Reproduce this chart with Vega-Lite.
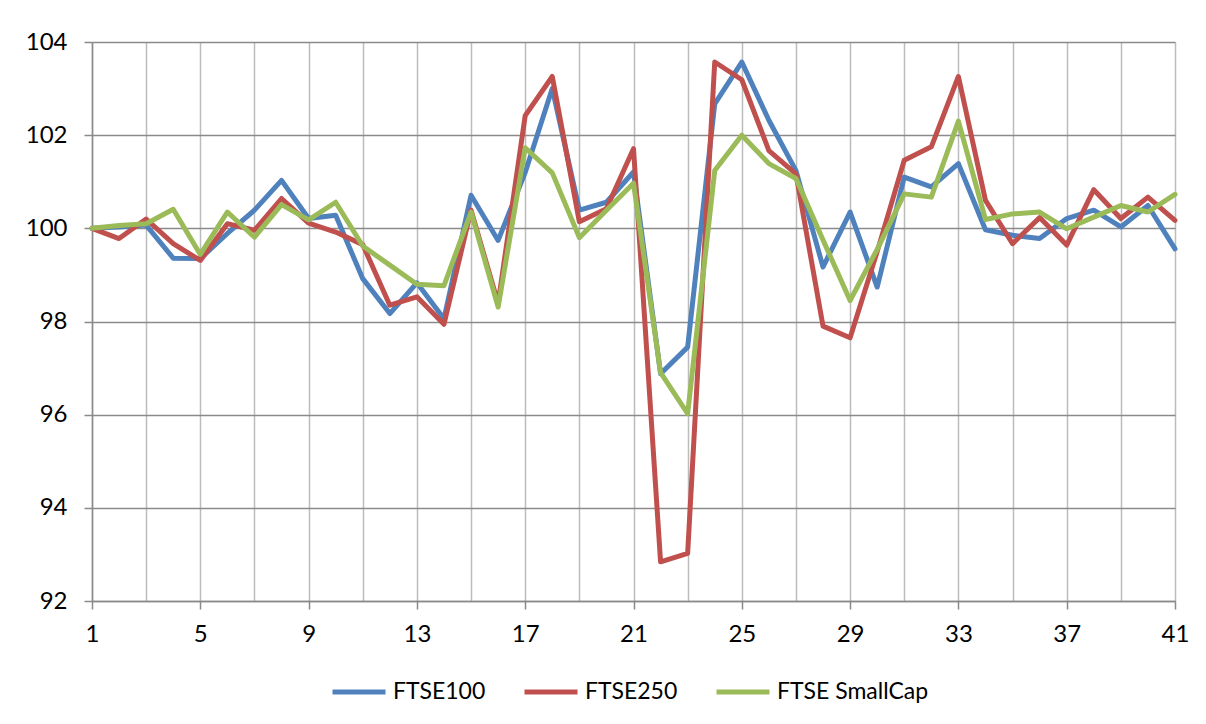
{
  "$schema": "https://vega.github.io/schema/vega-lite/v6.json",
  "width": 1083,
  "height": 559,
  "autosize": {"type": "none"},
  "padding": {"left": 92, "top": 42, "right": 31, "bottom": 123},
  "background": "white",
  "config": {
    "view": {"stroke": null},
    "font": "Lato",
    "axis": {"labelFont": "Lato", "labelFontSize": 24, "labelColor": "#000000", "titleFont": "Lato"},
    "legend": {"labelFont": "Lato", "labelFontSize": 23, "labelColor": "#000000"}
  },
  "data": {
    "values": [
      {"i": 1, "FTSE100": 100, "FTSE250": 100, "FTSE SmallCap": 100},
      {"i": 2, "FTSE100": 100.03, "FTSE250": 99.78, "FTSE SmallCap": 100.06},
      {"i": 3, "FTSE100": 100.07, "FTSE250": 100.2, "FTSE SmallCap": 100.1},
      {"i": 4, "FTSE100": 99.36, "FTSE250": 99.67, "FTSE SmallCap": 100.41},
      {"i": 5, "FTSE100": 99.35, "FTSE250": 99.31, "FTSE SmallCap": 99.44},
      {"i": 6, "FTSE100": 99.89, "FTSE250": 100.1, "FTSE SmallCap": 100.35},
      {"i": 7, "FTSE100": 100.39, "FTSE250": 99.96, "FTSE SmallCap": 99.81},
      {"i": 8, "FTSE100": 101.03, "FTSE250": 100.64, "FTSE SmallCap": 100.51},
      {"i": 9, "FTSE100": 100.21, "FTSE250": 100.11, "FTSE SmallCap": 100.18},
      {"i": 10, "FTSE100": 100.28, "FTSE250": 99.92, "FTSE SmallCap": 100.56},
      {"i": 11, "FTSE100": 98.92, "FTSE250": 99.65, "FTSE SmallCap": 99.62},
      {"i": 12, "FTSE100": 98.17, "FTSE250": 98.35, "FTSE SmallCap": 99.21},
      {"i": 13, "FTSE100": 98.83, "FTSE250": 98.53, "FTSE SmallCap": 98.8},
      {"i": 14, "FTSE100": 98.06, "FTSE250": 97.94, "FTSE SmallCap": 98.77},
      {"i": 15, "FTSE100": 100.71, "FTSE250": 100.39, "FTSE SmallCap": 100.35},
      {"i": 16, "FTSE100": 99.74, "FTSE250": 98.39, "FTSE SmallCap": 98.31},
      {"i": 17, "FTSE100": 101.2, "FTSE250": 102.42, "FTSE SmallCap": 101.73},
      {"i": 18, "FTSE100": 103.0, "FTSE250": 103.26, "FTSE SmallCap": 101.19},
      {"i": 19, "FTSE100": 100.39, "FTSE250": 100.14, "FTSE SmallCap": 99.8},
      {"i": 20, "FTSE100": 100.56, "FTSE250": 100.42, "FTSE SmallCap": 100.39},
      {"i": 21, "FTSE100": 101.21, "FTSE250": 101.71, "FTSE SmallCap": 100.97},
      {"i": 22, "FTSE100": 96.88, "FTSE250": 92.84, "FTSE SmallCap": 96.9},
      {"i": 23, "FTSE100": 97.45, "FTSE250": 93.02, "FTSE SmallCap": 96.02},
      {"i": 24, "FTSE100": 102.67, "FTSE250": 103.57, "FTSE SmallCap": 101.24},
      {"i": 25, "FTSE100": 103.57, "FTSE250": 103.19, "FTSE SmallCap": 102.0},
      {"i": 26, "FTSE100": 102.32, "FTSE250": 101.67, "FTSE SmallCap": 101.39},
      {"i": 27, "FTSE100": 101.24, "FTSE250": 101.17, "FTSE SmallCap": 101.07},
      {"i": 28, "FTSE100": 99.17, "FTSE250": 97.9, "FTSE SmallCap": 99.75},
      {"i": 29, "FTSE100": 100.35, "FTSE250": 97.65, "FTSE SmallCap": 98.45},
      {"i": 30, "FTSE100": 98.74, "FTSE250": 99.5, "FTSE SmallCap": 99.55},
      {"i": 31, "FTSE100": 101.1, "FTSE250": 101.46, "FTSE SmallCap": 100.74},
      {"i": 32, "FTSE100": 100.89, "FTSE250": 101.75, "FTSE SmallCap": 100.67},
      {"i": 33, "FTSE100": 101.39, "FTSE250": 103.26, "FTSE SmallCap": 102.3},
      {"i": 34, "FTSE100": 99.97, "FTSE250": 100.6, "FTSE SmallCap": 100.19},
      {"i": 35, "FTSE100": 99.85, "FTSE250": 99.67, "FTSE SmallCap": 100.31},
      {"i": 36, "FTSE100": 99.78, "FTSE250": 100.23, "FTSE SmallCap": 100.35},
      {"i": 37, "FTSE100": 100.21, "FTSE250": 99.64, "FTSE SmallCap": 99.99},
      {"i": 38, "FTSE100": 100.39, "FTSE250": 100.83, "FTSE SmallCap": 100.24},
      {"i": 39, "FTSE100": 100.03, "FTSE250": 100.21, "FTSE SmallCap": 100.49},
      {"i": 40, "FTSE100": 100.49, "FTSE250": 100.67, "FTSE SmallCap": 100.35},
      {"i": 41, "FTSE100": 99.56, "FTSE250": 100.17, "FTSE SmallCap": 100.73}
    ]
  },
  "transform": [
    {"fold": ["FTSE100", "FTSE250", "FTSE SmallCap"], "as": ["series", "value"]}
  ],
  "encoding": {
    "y": {
      "field": "value",
      "type": "quantitative",
      "scale": {"domain": [92, 104], "nice": false, "zero": false},
      "axis": {
        "title": null,
        "values": [92, 94, 96, 98, 100, 102, 104],
        "grid": true,
        "gridColor": "#8a8a8a",
        "gridWidth": 1.5,
        "domainColor": "#8a8a8a",
        "domainWidth": 1.5,
        "tickColor": "#8a8a8a",
        "tickWidth": 1.5,
        "tickSize": 8,
        "labelPadding": 17
      }
    },
    "color": {
      "field": "series",
      "type": "nominal",
      "scale": {
        "domain": ["FTSE100", "FTSE250", "FTSE SmallCap"],
        "range": ["#4F81BD", "#C0504D", "#9BBB59"]
      },
      "legend": {
        "title": null,
        "orient": "none",
        "direction": "horizontal",
        "legendX": 238,
        "legendY": 621,
        "symbolType": "stroke",
        "symbolSize": 2809,
        "symbolStrokeWidth": 5,
        "labelOffset": 5,
        "columnPadding": 28,
        "padding": 0
      }
    }
  },
  "layer": [
    {
      "transform": [{"filter": "datum.series === 'FTSE100'"}],
      "mark": {"type": "line", "strokeWidth": 5, "strokeJoin": "round", "strokeCap": "round"},
      "encoding": {
        "x": {
          "field": "i",
          "type": "quantitative",
          "scale": {"domain": [1, 41], "nice": false, "zero": false},
          "axis": {
            "orient": "bottom",
            "title": null,
            "values": [1, 3, 5, 7, 9, 11, 13, 15, 17, 19, 21, 23, 25, 27, 29, 31, 33, 35, 37, 39, 41],
            "grid": true,
            "gridColor": "#bcbcbc",
            "gridWidth": 1.5,
            "ticks": false,
            "labels": false,
            "domain": false
          }
        }
      }
    },
    {
      "transform": [{"filter": "datum.series === 'FTSE250'"}],
      "mark": {"type": "line", "strokeWidth": 5, "strokeJoin": "round", "strokeCap": "round"},
      "encoding": {
        "x": {
          "field": "i",
          "type": "quantitative",
          "scale": {"domain": [1, 41], "nice": false, "zero": false},
          "axis": {
            "orient": "bottom",
            "title": null,
            "values": [1, 5, 9, 13, 17, 21, 25, 29, 33, 37, 41],
            "grid": false,
            "domainColor": "#8a8a8a",
            "domainWidth": 1.5,
            "tickColor": "#8a8a8a",
            "tickWidth": 1.5,
            "tickSize": 8,
            "labelPadding": 13,
            "labelFlush": false
          }
        }
      }
    },
    {
      "transform": [{"filter": "datum.series === 'FTSE SmallCap'"}],
      "mark": {"type": "line", "strokeWidth": 5, "strokeJoin": "round", "strokeCap": "round"},
      "encoding": {
        "x": {
          "field": "i",
          "type": "quantitative",
          "scale": {"domain": [1, 41], "nice": false, "zero": false},
          "axis": null
        }
      }
    }
  ],
  "resolve": {"axis": {"x": "independent"}}
}
